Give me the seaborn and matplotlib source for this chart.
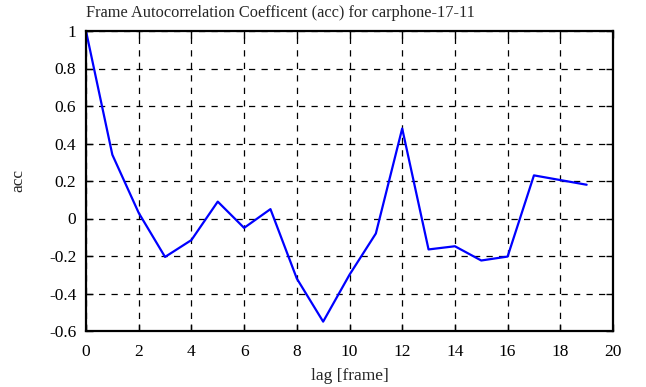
import matplotlib
matplotlib.use("Agg")
import matplotlib.pyplot as plt
import pandas as pd
import seaborn as sns

# autocorrelation values
lags = list(range(20))
acc = [1.0, 0.34, 0.03, -0.205, -0.115, 0.09, -0.05, 0.05, -0.32, -0.55,
       -0.30, -0.08, 0.48, -0.165, -0.148, -0.224, -0.203, 0.23, 0.205, 0.18]
xticks = list(range(0, 21, 2))
yticks = [-0.6, -0.4, -0.2, 0, 0.2, 0.4, 0.6, 0.8, 1]
ytick_labels = ["-0.6", "-0.4", "-0.2", "0", "0.2", "0.4", "0.6", "0.8", "1"]

sns.set_style("ticks")
plt.rcParams["font.family"] = ["Liberation Serif", "DejaVu Serif"]

dat = pd.DataFrame({"lag": lags, "acc": acc})

fig = plt.figure(figsize=(6.46, 3.87), dpi=100)
ax = fig.add_axes([86 / 646, 1 - 331 / 387, 527 / 646, 300 / 387])

sns.lineplot(data=dat, x="lag", y="acc", ax=ax, color="#0000ff", linewidth=1.6)

ax.set_xlim(0, 20)
ax.set_ylim(-0.6, 1)
ax.set_xticks(xticks)
ax.set_xticklabels([str(t) for t in xticks])
ax.set_yticks(yticks)
ax.set_yticklabels(ytick_labels)

# gnuplot-ish look: dashed black grid, inward ticks mirrored
ax.grid(True, color="black", linestyle=(0, (5, 5)), linewidth=0.9)
ax.tick_params(direction="in", top=True, right=True, length=5, width=1,
               labelsize=12.5, colors="black")
ax.tick_params(axis="x", pad=9)
ax.tick_params(axis="y", pad=7)
for s in ax.spines.values():
    s.set_visible(True)
    s.set_linewidth(1.6)
    s.set_color("black")

ax.set_xlabel("lag [frame]", fontsize=12.5, labelpad=6)
ax.set_ylabel("acc", fontsize=12.5, labelpad=16)
ax.set_title("Frame Autocorrelation Coefficent (acc) for carphone-17-11",
             fontsize=11.8, pad=10, x=(280 - 86) / 527)

fig.savefig("out.png", dpi=100)
